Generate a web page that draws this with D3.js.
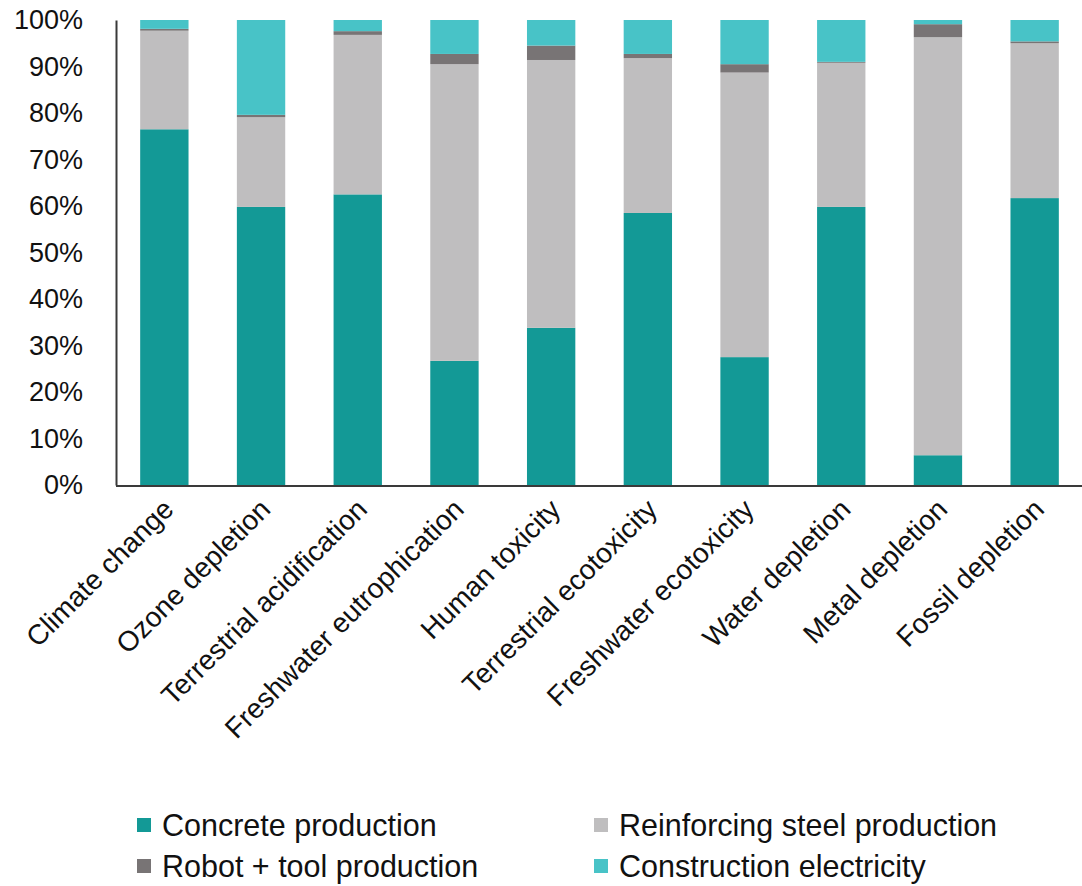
<!DOCTYPE html>
<html>
<head>
<meta charset="utf-8">
<script src="https://cdn.jsdelivr.net/npm/d3@7"></script>
<style>
  body { margin: 0; background: #fff; }
  text { font-family: "Liberation Sans", Arial, sans-serif; fill: #111; }
</style>
</head>
<body>
<svg class="chart" width="1082" height="886"></svg>
<script>
// impact categories along the x axis
const categories = [
  'Climate change', 'Ozone depletion', 'Terrestrial acidification',
  'Freshwater eutrophication', 'Human toxicity', 'Terrestrial ecotoxicity',
  'Freshwater ecotoxicity', 'Water depletion', 'Metal depletion', 'Fossil depletion'
];

const seriesNames = ['Concrete production', 'Reinforcing steel production', 'Robot + tool production', 'Construction electricity'];
const seriesColors = ['#139996', '#bfbebf', '#787475', '#48c3c7'];

// share of each category, in percent
const concrete = [76.5, 59.8, 62.5, 26.7, 33.8, 58.5, 27.5, 59.8, 6.4, 61.7];
const steel = [21.2, 19.3, 34.3, 63.8, 57.6, 33.3, 61.2, 31.0, 89.9, 33.3];
const robot = [0.4, 0.5, 0.8, 2.2, 3.1, 0.9, 1.8, 0.2, 2.8, 0.4];
const electricity = [1.9, 20.4, 2.4, 7.3, 5.5, 7.3, 9.5, 9.0, 0.9, 4.6];

const yTicks = [0, 10, 20, 30, 40, 50, 60, 70, 80, 90, 100];

const rows = categories.map((c, i) => ({
  category: c,
  'Concrete production': concrete[i],
  'Reinforcing steel production': steel[i],
  'Robot + tool production': robot[i],
  'Construction electricity': electricity[i],
}));

const svg = d3.select('.chart');
const margin = { top: 20, right: 0, bottom: 401, left: 116 };
const width = 1083 - margin.left;
const height = 886 - margin.top - margin.bottom;
const g = svg.append('g').attr('transform', `translate(${margin.left}, ${margin.top})`);

const x = d3.scaleBand().domain(categories).range([0, width]).paddingInner(0.5).paddingOuter(0.25);
const y = d3.scaleLinear().domain([0, 100]).range([height, 0]);
const color = d3.scaleOrdinal().domain(seriesNames).range(seriesColors);

const stacked = d3.stack().keys(seriesNames)(rows);

g.append('g')
  .selectAll('g')
  .data(stacked)
  .enter()
  .append('g')
  .attr('fill', d => color(d.key))
  .selectAll('rect')
  .data(d => d)
  .enter()
  .append('rect')
  .attr('x', d => x(d.data.category))
  .attr('y', d => y(d[1]))
  .attr('width', x.bandwidth())
  .attr('height', d => y(d[0]) - y(d[1]));

// y axis: line plus percentage labels, no tick marks
const yAxis = g.append('g')
  .call(d3.axisLeft(y).tickValues(yTicks).tickSize(0).tickPadding(33).tickFormat(d => d + '%'));
yAxis.select('.domain').attr('stroke', '#3a3a3a').attr('stroke-width', 2);
yAxis.selectAll('text').attr('font-size', 27).attr('fill', '#111');

// x axis with rotated category labels
const xAxis = g.append('g')
  .attr('transform', `translate(0, ${height + 1})`)
  .call(d3.axisBottom(x).tickSize(0));
xAxis.select('.domain').attr('stroke', '#3a3a3a').attr('stroke-width', 2).attr('d', `M0,0H${1082 - margin.left}`);
xAxis.selectAll('text')
  .attr('font-size', 28)
  .attr('fill', '#111')
  .attr('text-anchor', 'end')
  .attr('dy', 0)
  .attr('y', 0)
  .attr('transform', 'translate(11, 25) rotate(-45)');

// legend in two columns
const legendX = [137, 594];
const legendY = [825, 866];
const legend = svg.append('g')
  .selectAll('g')
  .data(seriesNames)
  .enter()
  .append('g')
  .attr('transform', (d, i) => `translate(${legendX[i % 2]}, ${legendY[Math.floor(i / 2)]})`);

legend.append('rect')
  .attr('x', 0)
  .attr('y', -7)
  .attr('width', 14)
  .attr('height', 14)
  .attr('fill', d => color(d));

legend.append('text')
  .attr('x', 25)
  .attr('y', 0)
  .attr('dy', '0.35em')
  .attr('font-size', 30.5)
  .text(d => d);
</script>
</body>
</html>
